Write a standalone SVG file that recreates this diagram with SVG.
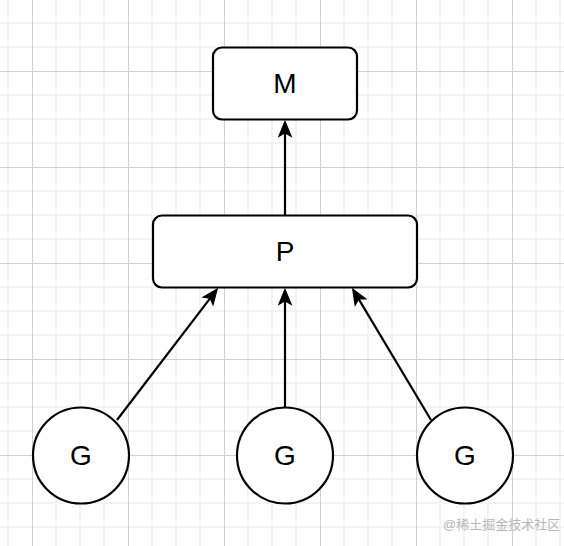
<svg xmlns="http://www.w3.org/2000/svg" width="564" height="546" viewBox="0 0 564 546">
  <style>
    .minor { stroke: #f3f3f3; stroke-width: 2; fill: none; }
    .major { stroke: #d0d0d0; stroke-width: 1; fill: none; }
    .node { fill: #ffffff; stroke: #000000; stroke-width: 2.2; }
    .label { font-family: "Liberation Sans", Arial, Helvetica, sans-serif; font-size: 28px; fill: #000000; text-anchor: middle; dominant-baseline: central; }
    .edge { stroke: #000000; stroke-width: 2.2; fill: none; marker-end: url(#arrow); }
    .wm { font-family: "Liberation Sans", "Noto Sans CJK SC", sans-serif; font-size: 13px; fill: #b8b8b8; }
  </style>
  <defs>
    <marker id="arrow" markerUnits="userSpaceOnUse" markerWidth="18" markerHeight="15" viewBox="0 0 17 14" refX="13" refY="7" orient="auto">
      <path d="M17,7 L0,0 L4,7 L0,14 Z" fill="#000000"/>
    </marker>
  </defs>
  <rect x="0" y="0" width="564" height="546" fill="#ffffff"/>
  <g id="grid">
    <path class="minor" d="M8,0V546 M56,0V546 M80,0V546 M104,0V546 M152,0V546 M176,0V546 M200,0V546 M248,0V546 M272,0V546 M296,0V546 M344,0V546 M368,0V546 M392,0V546 M440,0V546 M464,0V546 M488,0V546 M536,0V546 M560,0V546 M0,23H564 M0,47H564 M0,95H564 M0,119H564 M0,143H564 M0,191H564 M0,215H564 M0,239H564 M0,287H564 M0,311H564 M0,335H564 M0,383H564 M0,407H564 M0,431H564 M0,479H564 M0,503H564 M0,527H564"/>
    <path class="major" d="M32.5,0V546 M128.5,0V546 M224.5,0V546 M320.5,0V546 M416.5,0V546 M512.5,0V546 M0,71.5H564 M0,167.5H564 M0,263.5H564 M0,359.5H564 M0,455.5H564"/>
  </g>
  <g id="connectors">
    <path class="edge" d="M285,215 L285,124"/>
    <path class="edge" d="M117,420 L215.6,291.2"/>
    <path class="edge" d="M285,407 L285,292"/>
    <path class="edge" d="M431,420 L354.1,291.4"/>
  </g>
  <g id="node-M">
    <rect class="node" x="213" y="47.5" width="144" height="72" rx="9" ry="9"/>
    <text class="label" x="285" y="83.5">M</text>
  </g>
  <g id="node-P">
    <rect class="node" x="153" y="215.5" width="264" height="72" rx="9" ry="9"/>
    <text class="label" x="285" y="251.5">P</text>
  </g>
  <g id="node-G1">
    <circle class="node" cx="81" cy="455.5" r="48"/>
    <text class="label" x="81" y="455.5">G</text>
  </g>
  <g id="node-G2">
    <circle class="node" cx="285" cy="455.5" r="48"/>
    <text class="label" x="285" y="455.5">G</text>
  </g>
  <g id="node-G3">
    <circle class="node" cx="465" cy="455.5" r="48"/>
    <text class="label" x="465" y="455.5">G</text>
  </g>
  <text class="wm" x="443" y="529">@稀土掘金技术社区</text>
</svg>
